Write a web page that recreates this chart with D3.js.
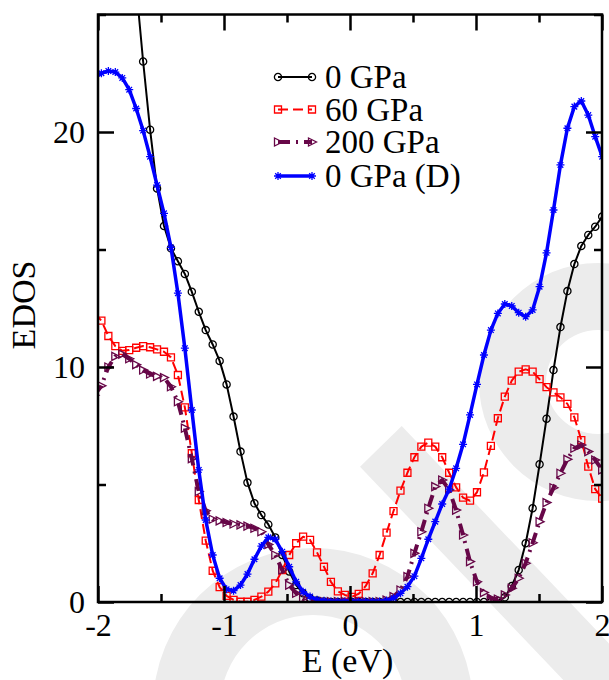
<!DOCTYPE html>
<html>
<head>
<meta charset="utf-8">
<script src="https://cdn.jsdelivr.net/npm/d3@7"></script>
<style>
  @font-face {
    font-family: "PlotSerif";
    src: local("Liberation Serif"), local("LiberationSerif"), local("LiberationSerif-Regular"), local("Liberation Serif Regular");
  }
  html, body { margin: 0; padding: 0; background: #ffffff; }
  .lbl { font-family: "Liberation Serif", "PlotSerif", Tinos, "Times New Roman", Times, FreeSerif, "Nimbus Roman", Georgia, serif; }
</style>
</head>
<body>
<svg id="edos-figure" width="609" height="680"></svg>
<script>
// Energy grid (eV, relative to the Fermi level)
const energy = [
  -2.0282, -1.9730, -1.9178, -1.8626, -1.8074, -1.7522, -1.6970, -1.6418, -1.5866, -1.5314,
  -1.4762, -1.4210, -1.3658, -1.3106, -1.2554, -1.2002, -1.1450, -1.0898, -1.0346, -0.9794,
  -0.9242, -0.8690, -0.8138, -0.7586, -0.7034, -0.6482, -0.5930, -0.5378, -0.4826, -0.4274,
  -0.3722, -0.3170, -0.2618, -0.2066, -0.1514, -0.0962, -0.0410, 0.0142, 0.0694, 0.1246,
  0.1798, 0.2350, 0.2902, 0.3454, 0.4006, 0.4558, 0.5110, 0.5662, 0.6214, 0.6766,
  0.7318, 0.7870, 0.8422, 0.8974, 0.9526, 1.0078, 1.0630, 1.1182, 1.1734, 1.2286,
  1.2838, 1.3390, 1.3942, 1.4494, 1.5046, 1.5598, 1.6150, 1.6702, 1.7254, 1.7806,
  1.8358, 1.8910, 1.9462, 2.0014, 2.0566
];

// Electronic density of states for each pressure
const edos0 = [
  45, 42, 39, 36, 32.8, 29.5, 26.2, 23.0, 20.1, 17.6,
  16.0, 15.05, 14.5, 13.96, 13.2, 12.35, 11.57, 10.96, 10.26, 9.26,
  7.89, 6.40, 5.08, 4.2, 3.7, 3.3, 2.75, 2.0, 1.3, 0.72,
  0.37, 0.16, 0.06, 0.02, 0, 0, 0, 0, 0, 0,
  0, 0, 0, 0, 0, 0, 0, 0, 0, 0,
  0, 0, 0, 0, 0, 0, 0, 0, 0.05, 0.2,
  0.68, 1.36, 2.5, 3.99, 5.86, 7.8, 9.87, 11.7, 13.23, 14.38,
  15.15, 15.62, 15.97, 16.4, 16.8
];
const edos60 = [
  12.3, 11.97, 11.32, 10.89, 10.69, 10.72, 10.82, 10.89, 10.84, 10.75,
  10.65, 10.41, 9.66, 8.28, 6.33, 4.34, 2.61, 1.33, 0.63, 0.26,
  0.09, 0.01, 0.01, 0.09, 0.23, 0.44, 0.79, 1.36, 2.0, 2.5,
  2.78, 2.64, 2.11, 1.5, 0.86, 0.45, 0.3, 0.22, 0.35, 0.68,
  1.22, 2.0, 2.95, 3.87, 4.74, 5.5, 6.16, 6.61, 6.78, 6.61,
  6.16, 5.5, 4.88, 4.44, 4.31, 4.67, 5.52, 6.64, 7.82, 8.74,
  9.42, 9.8, 9.9, 9.8, 9.48, 9.14, 8.92, 8.71, 8.43, 7.86,
  6.89, 5.76, 4.8, 4.4, 4.0
];
const edos200 = [
  8.8, 9.2, 10.0, 10.45, 10.55, 10.35, 10.1, 9.87, 9.7, 9.6,
  9.55, 9.16, 8.52, 7.4, 6.1, 4.7, 3.88, 3.52, 3.45, 3.38,
  3.32, 3.28, 3.23, 3.14, 2.99, 2.45, 2.0, 1.36, 0.72, 0.37,
  0.16, 0.08, 0.04, 0.02, 0.02, 0.02, 0.02, 0.02, 0.02, 0.02,
  0.02, 0.02, 0.08, 0.23, 0.51, 1.08, 2.07, 2.99, 3.99, 4.91,
  5.19, 4.77, 3.91, 2.85, 1.72, 0.86, 0.4, 0.16, 0.12, 0.3,
  0.58, 1.01, 1.65, 2.52, 3.42, 4.23, 4.86, 5.48, 6.07, 6.54,
  6.68, 6.4, 6.04, 5.62, 5.2
];
const edos0D = [
  22.3, 22.5, 22.6, 22.55, 22.3, 21.8, 21.0, 20.06, 18.95, 17.74,
  16.54, 15.09, 13.14, 10.8, 8.17, 5.62, 3.49, 2.0, 1.01, 0.54,
  0.48, 0.72, 1.19, 1.82, 2.38, 2.75, 2.67, 2.14, 1.5, 0.86,
  0.44, 0.23, 0.1, 0.05, 0.02, 0.02, 0.02, 0.02, 0.02, 0.02,
  0.02, 0.02, 0.06, 0.16, 0.37, 0.65, 1.1, 1.86, 2.67, 3.42,
  4.17, 4.8, 5.69, 6.71, 7.96, 9.26, 10.51, 11.57, 12.28, 12.68,
  12.6, 12.31, 12.14, 12.43, 13.42, 14.86, 16.68, 18.6, 20.16, 21.08,
  21.32, 20.72, 19.8, 18.95, 18.0
];

const seriesNames = ["0 GPa", "60 GPa", "200 GPa", "0 GPa (D)"];
const xMajorTicks = [-2, -1, 0, 1, 2];
const xMinorTicks = [-1.5, -0.5, 0.5, 1.5];
const yMajorTicks = [0, 10, 20];
const yMinorTicks = [5, 15, 25];

// ---- drawing ----
const fontList = '"Liberation Serif", "PlotSerif", Tinos, "Times New Roman", Times, FreeSerif, "Nimbus Roman", Georgia, serif';
const svg = d3.select("#edos-figure");
const plot = { left: 98, right: 602, top: 14.5, bottom: 602 };

const x = d3.scaleLinear().domain([-2, 2]).range([plot.left, plot.right]);
const y = d3.scaleLinear().domain([0, 25]).range([plot.bottom, plot.top]);

function serifText(sel, size) {
  sel.attr("class", "lbl")
    .attr("font-family", fontList)
    .attr("font-size", size)
    .attr("style", `font-family: ${fontList}; font-size: ${size}px;`);
  return sel;
}

// light grey backdrop shapes
const bg = svg.append("g").attr("fill", "#ececec").attr("stroke", "none");
function ringPath(cx, cy, ro, ri) {
  return `M${cx - ro},${cy}A${ro},${ro} 0 1,1 ${cx + ro},${cy}A${ro},${ro} 0 1,1 ${cx - ro},${cy}Z` +
         `M${cx - ri},${cy}A${ri},${ri} 0 1,0 ${cx + ri},${cy}A${ri},${ri} 0 1,0 ${cx - ri},${cy}Z`;
}
bg.append("path").attr("fill-rule", "evenodd").attr("d", ringPath(313, 708, 160, 93));
bg.append("path").attr("fill-rule", "evenodd").attr("d", ringPath(598, 382, 119, 52));
bg.append("path").attr("d", "M360,466.7L401.7,426L677.7,715.6L636,756.3Z");

// clip for the data
svg.append("defs").append("clipPath").attr("id", "plotClip")
  .append("rect")
  .attr("x", plot.left).attr("y", plot.top)
  .attr("width", plot.right - plot.left).attr("height", plot.bottom - plot.top);

const maroon = "#670748";
const series = [
  { name: seriesNames[0], values: edos0, color: "#000000", width: 2, dash: null, symbol: "circle" },
  { name: seriesNames[1], values: edos60, color: "#ff0000", width: 2, dash: "10,5", symbol: "square" },
  { name: seriesNames[2], values: edos200, color: maroon, width: 4, dash: "12,6,2,6", symbol: "triangle" },
  { name: seriesNames[3], values: edos0D, color: "#0000ff", width: 3.5, dash: null, symbol: "star" }
];

const symbolPath = {
  circle: "M3.6,0A3.6,3.6 0 1,1 -3.6,0A3.6,3.6 0 1,1 3.6,0Z",
  square: "M-3.5,-3.5H3.5V3.5H-3.5Z",
  triangle: "M-3.5,-4L4.5,0L-3.5,4Z",
  star: "M-4,0H4M0,-4V4M-2.8,-2.8L2.8,2.8M-2.8,2.8L2.8,-2.8"
};

const line = d3.line().x(d => x(d[0])).y(d => y(d[1]));
const dataG = svg.append("g").attr("clip-path", "url(#plotClip)");

series.forEach(s => {
  const pts = energy.map((e, i) => [e, s.values[i]]);
  dataG.append("path")
    .attr("d", line(pts))
    .attr("fill", "none")
    .attr("stroke", s.color)
    .attr("stroke-width", s.width)
    .attr("stroke-linejoin", "round")
    .attr("stroke-dasharray", s.dash);
  dataG.append("g").selectAll("path")
    .data(pts)
    .join("path")
    .attr("transform", d => `translate(${x(d[0])},${y(d[1])})`)
    .attr("d", symbolPath[s.symbol])
    .attr("fill", "none")
    .attr("stroke", s.color)
    .attr("stroke-width", 1.3);
});

// ---- axes (inward ticks on all four sides) ----
const fmt = d => String(d);
const major = 16, minor = 8, tickW = 2.5;

function styleAxis(g) {
  g.attr("font-family", fontList).attr("font-size", 32);
  g.select(".domain").remove();
  g.selectAll(".tick line").attr("stroke", "#000").attr("stroke-width", tickW);
  g.selectAll(".tick text").attr("fill", "#000").call(serifText, 32);
}

svg.append("g").attr("transform", `translate(0,${plot.bottom})`)
  .call(d3.axisBottom(x).tickValues(xMajorTicks).tickSize(-major).tickPadding(11).tickFormat(fmt))
  .call(styleAxis);
svg.append("g").attr("transform", `translate(0,${plot.bottom})`)
  .call(d3.axisBottom(x).tickValues(xMinorTicks).tickSize(-minor).tickFormat(""))
  .call(styleAxis);
svg.append("g").attr("transform", `translate(0,${plot.top})`)
  .call(d3.axisTop(x).tickValues(xMajorTicks).tickSize(-major).tickFormat(""))
  .call(styleAxis);
svg.append("g").attr("transform", `translate(0,${plot.top})`)
  .call(d3.axisTop(x).tickValues(xMinorTicks).tickSize(-minor).tickFormat(""))
  .call(styleAxis);
svg.append("g").attr("transform", `translate(${plot.left},0)`)
  .call(d3.axisLeft(y).tickValues(yMajorTicks).tickSize(-major).tickPadding(13).tickFormat(fmt))
  .call(styleAxis);
svg.append("g").attr("transform", `translate(${plot.left},0)`)
  .call(d3.axisLeft(y).tickValues(yMinorTicks).tickSize(-minor).tickFormat(""))
  .call(styleAxis);
svg.append("g").attr("transform", `translate(${plot.right},0)`)
  .call(d3.axisRight(y).tickValues(yMajorTicks).tickSize(-major).tickFormat(""))
  .call(styleAxis);
svg.append("g").attr("transform", `translate(${plot.right},0)`)
  .call(d3.axisRight(y).tickValues(yMinorTicks).tickSize(-minor).tickFormat(""))
  .call(styleAxis);

// frame
svg.append("rect")
  .attr("x", plot.left).attr("y", plot.top)
  .attr("width", plot.right - plot.left).attr("height", plot.bottom - plot.top)
  .attr("fill", "none").attr("stroke", "#000").attr("stroke-width", 2.5);

// axis titles
svg.append("text")
  .attr("x", 347.5).attr("y", 672)
  .attr("text-anchor", "middle").attr("fill", "#000")
  .call(serifText, 34)
  .text("E (eV)");
svg.append("text")
  .attr("transform", "translate(35,305) rotate(-90)")
  .attr("text-anchor", "middle").attr("fill", "#000")
  .call(serifText, 34)
  .text("EDOS");

// legend
const legendRows = [77, 109.5, 142, 176];
const legend = svg.append("g");
series.forEach((s, i) => {
  const ly = legendRows[i];
  const g = legend.append("g");
  g.append("line")
    .attr("x1", 278).attr("x2", 312).attr("y1", ly).attr("y2", ly)
    .attr("stroke", s.color).attr("stroke-width", s.width)
    .attr("stroke-dasharray", s.dash);
  [278, 312].forEach(px => {
    g.append("path")
      .attr("transform", `translate(${px},${ly})`)
      .attr("d", symbolPath[s.symbol])
      .attr("fill", "none").attr("stroke", s.color).attr("stroke-width", 1.3);
  });
  g.append("text")
    .attr("x", 325).attr("y", ly + 11)
    .attr("fill", "#000")
    .call(serifText, 33)
    .text(s.name);
});
</script>
</body>
</html>
